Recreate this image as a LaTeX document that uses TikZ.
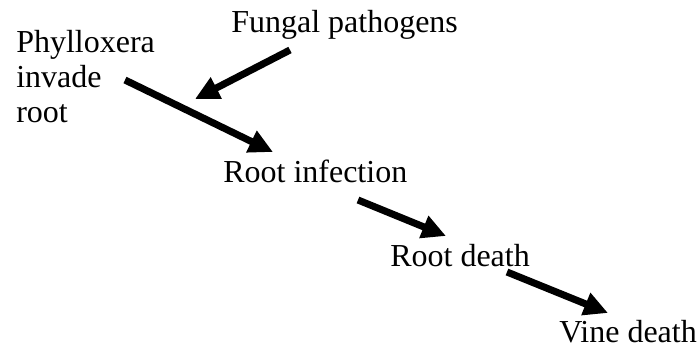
\documentclass[tikz,border=0pt]{standalone}
\usepackage{fontspec}
\setmainfont{Liberation Serif}
\usetikzlibrary{arrows.meta}
\begin{document}
\begin{tikzpicture}[x=0.75pt,y=-0.75pt,
  lbl/.style={inner sep=0pt,anchor=base west,align=left,font=\fontsize{24}{26.25}\selectfont},
  flow/.style={line width=5.3pt,-{Triangle[length=18pt,width=17pt]}}]
\useasboundingbox (0,0) rectangle (699,344);
\node[lbl] (fungal) at (231,32) {Fungal pathogens};
\node[lbl] (phyl) at (16,122) {Phylloxera\\invade\\root};
\node[lbl] (rinf) at (223,182) {Root infection};
\node[lbl] (rdeath) at (390,266) {Root death};
\node[lbl] (vdeath) at (559,342) {Vine death};
\coordinate (a1s) at (290,50);
\coordinate (a1e) at (195,99);
\coordinate (a2s) at (125,80);
\coordinate (a2e) at (273,152);
\coordinate (a3s) at (358,200);
\coordinate (a3e) at (446,236);
\coordinate (a4s) at (507,272);
\coordinate (a4e) at (608,313);
\draw[flow] (a1s) -- (a1e);
\draw[flow] (a2s) -- (a2e);
\draw[flow] (a3s) -- (a3e);
\draw[flow] (a4s) -- (a4e);
\end{tikzpicture}
\end{document}
